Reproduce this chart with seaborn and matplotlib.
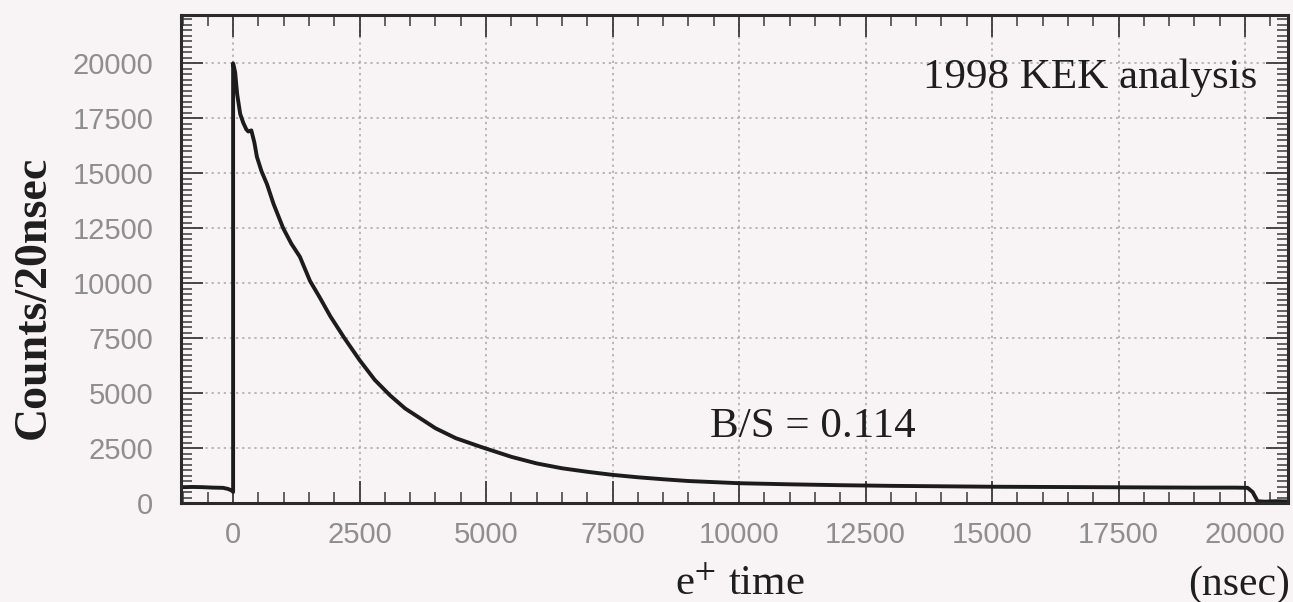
import numpy as np
import pandas as pd
import matplotlib
matplotlib.use("Agg")
import matplotlib.pyplot as plt
from matplotlib.ticker import MultipleLocator
import seaborn as sns

# ---- data ----
time_ns = [-1000, -800, -600, -400, -200, -100, -20, 0,
           0, 40, 80, 140, 200, 260, 300, 360, 420, 470, 560, 670, 800, 990,
           1150, 1320, 1520, 1700, 1920, 2200, 2500, 2800, 3100, 3400, 3700,
           4000, 4400, 4900, 5500, 6000, 6500, 7000, 7500, 8000, 8500, 9000,
           9500, 10000, 11000, 12000, 13000, 14000, 15000, 16000, 17000,
           18000, 19000, 19800, 20050, 20150, 20250, 20400, 20600, 20840]
counts = [720, 730, 720, 700, 690, 640, 560, 500,
          20000, 19600, 18600, 17700, 17300, 17000, 16900, 16950, 16400, 15750,
          15100, 14500, 13600, 12500, 11800, 11200, 10100, 9400, 8500, 7500,
          6500, 5600, 4900, 4300, 3850, 3400, 2950, 2550, 2100, 1800, 1580,
          1420, 1280, 1170, 1080, 1000, 950, 900, 850, 810, 780, 760, 740,
          730, 720, 710, 700, 700, 690, 500, 80, 60, 80, 70]

x_ticks = [0, 2500, 5000, 7500, 10000, 12500, 15000, 17500, 20000]
y_ticks = [0, 2500, 5000, 7500, 10000, 12500, 15000, 17500, 20000]

df = pd.DataFrame({"t": time_ns, "n": counts})

sns.set_theme(style="ticks")
bg = "#f8f3f4"
plt.rcParams["mathtext.fontset"] = "stix"

fig = plt.figure(figsize=(12.93, 6.02), dpi=100, facecolor=bg)
ax = fig.add_axes([181 / 1293, 1 - 503 / 602, (1288 - 181) / 1293, (503 - 15) / 602])
ax.set_facecolor(bg)

sns.lineplot(data=df, x="t", y="n", estimator=None, sort=False,
             color="#1c1c1c", linewidth=2.8, ax=ax)

ax.set_xlim(-1030, 20850)
ax.set_ylim(0, 22200)
ax.set_xticks(x_ticks)
ax.set_yticks(y_ticks)
ax.xaxis.set_minor_locator(MultipleLocator(500))
ax.yaxis.set_minor_locator(MultipleLocator(250))
ax.set_xlabel("")
ax.set_ylabel("")

ax.grid(True, which="major", linestyle=(0, (1.5, 2.5)), color="#a8a8a8", linewidth=1.1)

for sp in ax.spines.values():
    sp.set_visible(True)
    sp.set_color("#2a2a2a")
    sp.set_linewidth(2.2)

ax.tick_params(axis="both", which="major", direction="in", length=16, width=1.3,
               color="#3a3a3a", top=True, right=True)
ax.tick_params(axis="both", which="minor", direction="in", length=8, width=1.1,
               color="#3a3a3a", top=True, right=True)
ax.tick_params(axis="x", which="major", pad=13, labelsize=21, labelcolor="#8e8e8e")
ax.tick_params(axis="y", which="major", pad=20, labelsize=21, labelcolor="#8e8e8e")
for lab in ax.get_xticklabels() + ax.get_yticklabels():
    lab.set_fontfamily("Liberation Sans")

ax.text(20237, 18860, "1998 KEK analysis", ha="right", va="baseline",
        fontsize=31, family="Liberation Serif", color="#1e1e1e")
ax.text(9427, 3000, "B/S = 0.114", ha="left", va="baseline",
        fontsize=31, family="Liberation Serif", color="#1e1e1e")

fig.text(34 / 1293, 1 - 297 / 602, "Counts/20nsec", rotation=90, ha="center", va="center",
         fontsize=33, family="Liberation Serif", fontweight="bold", color="#1e1e1e")
fig.text(740 / 1293, 1 - 595 / 602, "e$^{+}$ time", ha="center", va="baseline",
         fontsize=31, family="Liberation Serif", color="#1e1e1e")
fig.text(1290 / 1293, 1 - 595 / 602, "(nsec)", ha="right", va="baseline",
         fontsize=30, family="Liberation Serif", color="#1e1e1e")

fig.savefig("out.png", dpi=100, facecolor=bg)
